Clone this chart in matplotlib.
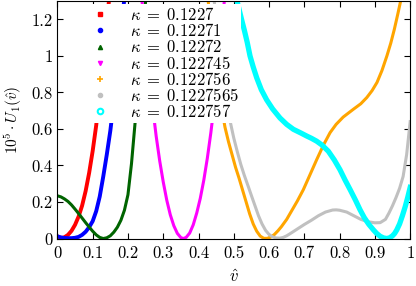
import matplotlib
matplotlib.use("Agg")
import matplotlib.pyplot as plt
from matplotlib.lines import Line2D
from matplotlib.ticker import FuncFormatter

plt.rcParams['font.family'] = 'serif'
plt.rcParams['font.serif'] = ['cmr10']
plt.rcParams['mathtext.fontset'] = 'cm'
plt.rcParams['axes.formatter.use_mathtext'] = True
plt.rcParams['font.size'] = 12

# kappa = 0.1227
v_red = [0.0, 0.005, 0.01, 0.015, 0.02, 0.03, 0.04, 0.05, 0.06, 0.07, 0.08, 0.09, 0.1, 0.11, 0.12, 0.13, 0.14, 0.15]
u_red = [0.012, 0.006, 0.004, 0.004, 0.007, 0.02, 0.042, 0.075, 0.12, 0.18, 0.26, 0.36, 0.48, 0.62, 0.80, 0.99, 1.18, 1.38]

# kappa = 0.12271
v_blue = [0.0, 0.01, 0.02, 0.03, 0.04, 0.05, 0.06, 0.07, 0.08, 0.09, 0.1, 0.11, 0.12, 0.13, 0.14, 0.15,
          0.16, 0.17, 0.18, 0.19]
u_blue = [0.012, 0.006, 0.003, 0.002, 0.002, 0.004, 0.009, 0.02, 0.037, 0.062, 0.095, 0.15, 0.23, 0.34, 0.46, 0.59,
          0.75, 0.93, 1.12, 1.32]

# kappa = 0.12272
v_green = [0.0, 0.01, 0.02, 0.03, 0.04, 0.05, 0.06, 0.07, 0.08, 0.09, 0.1, 0.11, 0.12, 0.13, 0.14, 0.15,
           0.16, 0.17, 0.18, 0.19, 0.2, 0.21, 0.22, 0.23, 0.24, 0.25]
u_green = [0.234, 0.228, 0.217, 0.203, 0.184, 0.161, 0.137, 0.112, 0.087, 0.063, 0.040, 0.020, 0.006, 0.0, 0.004, 0.015,
           0.035, 0.062, 0.10, 0.155, 0.24, 0.41, 0.63, 0.86, 1.08, 1.30]

# kappa = 0.122745
v_mag = [0.239, 0.25, 0.26, 0.27, 0.28, 0.29, 0.30, 0.31, 0.32, 0.33, 0.34, 0.35, 0.357, 0.365, 0.375,
         0.385, 0.395, 0.405, 0.415, 0.425, 0.435, 0.445, 0.455, 0.465, 0.474]
u_mag = [1.32, 1.09, 0.89, 0.72, 0.56, 0.425, 0.31, 0.21, 0.13, 0.07, 0.028, 0.005, 0.0, 0.006, 0.03,
         0.075, 0.14, 0.22, 0.32, 0.44, 0.58, 0.74, 0.92, 1.12, 1.32]

# kappa = 0.122756
v_orange = [0.427, 0.435, 0.445, 0.455, 0.465, 0.475, 0.485, 0.495, 0.505, 0.515, 0.525, 0.535, 0.545,
            0.555, 0.565, 0.575, 0.585, 0.595, 0.605, 0.615, 0.625, 0.635, 0.65, 0.665, 0.68, 0.697,
            0.715, 0.735, 0.755, 0.773, 0.79, 0.81, 0.839, 0.86, 0.877, 0.892, 0.906, 0.92, 0.934,
            0.945, 0.955, 0.965, 0.974]
u_orange = [1.31, 1.15, 0.99, 0.85, 0.72, 0.61, 0.53, 0.46, 0.39, 0.33, 0.265, 0.2, 0.135,
            0.08, 0.04, 0.013, 0.001, 0.001, 0.008, 0.022, 0.042, 0.065, 0.105, 0.155, 0.205, 0.267,
            0.345, 0.432, 0.515, 0.58, 0.625, 0.665, 0.708, 0.738, 0.772, 0.81, 0.855, 0.92, 1.0,
            1.07, 1.145, 1.23, 1.31]

# kappa = 0.1227565
v_gray = [0.444, 0.452, 0.46, 0.47, 0.48, 0.491, 0.5, 0.51, 0.52, 0.53, 0.541, 0.55, 0.56, 0.57, 0.58,
          0.59, 0.6, 0.61, 0.62, 0.63, 0.64, 0.65, 0.66, 0.68, 0.7, 0.72, 0.74, 0.76, 0.78, 0.79, 0.8,
          0.82, 0.84, 0.86, 0.88, 0.9, 0.915, 0.93, 0.94, 0.95, 0.96, 0.97, 0.98, 0.99, 1.0]
u_gray = [1.31, 1.17, 1.05, 0.9, 0.76, 0.63, 0.55, 0.475, 0.405, 0.345, 0.285, 0.235, 0.18, 0.125, 0.08,
          0.045, 0.022, 0.009, 0.003, 0.002, 0.006, 0.015, 0.027, 0.052, 0.077, 0.1, 0.125, 0.145, 0.156, 0.157, 0.155,
          0.145, 0.125, 0.105, 0.092, 0.086, 0.087, 0.105, 0.14, 0.18, 0.225, 0.275, 0.34, 0.46, 0.64]

# kappa = 0.122757
v_cyan = [0.508, 0.515, 0.522, 0.53, 0.538, 0.546, 0.555, 0.565, 0.578, 0.593, 0.61, 0.631, 0.65, 0.669,
          0.69, 0.707, 0.72, 0.735, 0.75, 0.768, 0.785, 0.801, 0.815, 0.83, 0.845, 0.858, 0.87, 0.883,
          0.896, 0.905, 0.915, 0.925, 0.934, 0.942, 0.95, 0.956, 0.962, 0.97, 0.978, 0.986, 0.993, 1.0]
u_cyan = [1.31, 1.255, 1.2, 1.14, 1.075, 1.0, 0.94, 0.88, 0.815, 0.76, 0.71, 0.66, 0.625, 0.598,
          0.578, 0.561, 0.549, 0.533, 0.512, 0.478, 0.43, 0.377, 0.322, 0.267, 0.21, 0.157, 0.114, 0.077,
          0.047, 0.028, 0.012, 0.003, 0.0, 0.004, 0.015, 0.028, 0.047, 0.08, 0.125, 0.175, 0.225, 0.28]

labels = ['0.1227', '0.12271', '0.12272', '0.122745', '0.122756', '0.1227565', '0.122757']
colors = ['#ff0000', '#0000ff', '#006400', '#ff00ff', '#ffa500', '#c0c0c0', '#00ffff']
markers = ['s', 'o', '^', 'v', '+', 'o', 'o']

fig = plt.figure(figsize=(4.16, 2.86), dpi=100)
ax = fig.add_axes([0.138, 0.166, 0.848, 0.83])

series = [(v_red, u_red), (v_blue, u_blue), (v_green, u_green), (v_mag, u_mag),
          (v_orange, u_orange), (v_gray, u_gray), (v_cyan, u_cyan)]
widths = [2.8, 2.8, 2.2, 2.2, 2.2, 2.2, 3.8]
for (v, u), c, w in zip(series, colors, widths):
    ax.plot(v, u, color=c, lw=w, solid_joinstyle='round')

ax.set_xlim(0, 1)
ax.set_ylim(0, 1.3)
ax.set_xticks([0, 0.1, 0.2, 0.3, 0.4, 0.5, 0.6, 0.7, 0.8, 0.9, 1.0])
ax.set_yticks([0, 0.2, 0.4, 0.6, 0.8, 1.0, 1.2])
fmt = FuncFormatter(lambda x, pos: '%g' % round(x, 2))
ax.xaxis.set_major_formatter(fmt)
ax.yaxis.set_major_formatter(fmt)
ax.tick_params(direction='in', top=True, right=True, length=4, width=0.8, labelsize=12)
ax.tick_params(axis='x', pad=5)
ax.tick_params(axis='y', pad=3.5)
ax.set_xlabel(r'$\hat{v}$', labelpad=5)
ax.set_ylabel(r'$10^5 \cdot U_1(\hat{v})$', fontsize=11, va='center')
ax.yaxis.set_label_coords(-0.124, 0.5)

handles = []
for c, m in zip(colors, markers):
    if m == 'o' and c == '#00ffff':
        h = Line2D([], [], ls='none', marker='o', color=c, markerfacecolor='none', markersize=4, markeredgewidth=1.5)
    elif m == '+':
        h = Line2D([], [], ls='none', marker=m, color=c, markersize=4, markeredgewidth=1.2)
    else:
        h = Line2D([], [], ls='none', marker=m, color=c, markersize=3)
    handles.append(h)
leg = ax.legend(handles, [r'$\kappa\;=\;%s$' % s for s in labels], loc='upper left',
                bbox_to_anchor=(0.09, 0.99), borderaxespad=0, frameon=True, fancybox=False,
                handlelength=1.0, handletextpad=1.3, labelspacing=-0.05, borderpad=0.15,
                fontsize=12)
leg.get_frame().set_edgecolor('none')
leg.get_frame().set_facecolor('white')
leg.get_frame().set_alpha(1)

fig.savefig('out.png', dpi=100)
